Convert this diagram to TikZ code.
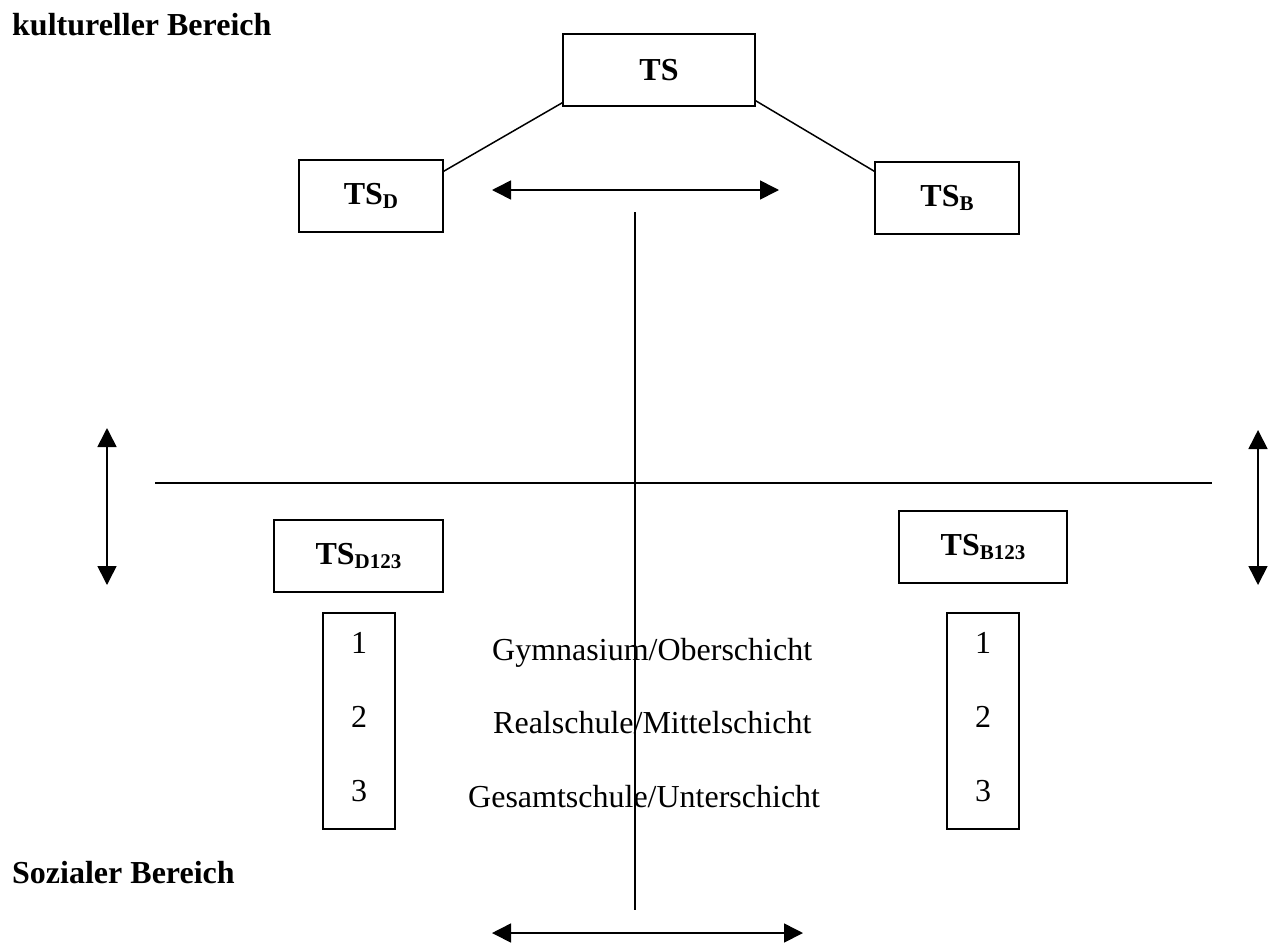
\documentclass[tikz,border=0pt]{standalone}
\usepackage{fontspec}
\setmainfont{Liberation Serif}
\usetikzlibrary{arrows.meta}

\newcommand{\subtxt}[1]{\raisebox{-4pt}{\fontsize{21}{21}\selectfont #1}}

\begin{document}
\begin{tikzpicture}[x=1pt,y=-1pt,
  txt/.style={font=\fontsize{32}{38}\selectfont, inner sep=0pt},
  boldtxt/.style={font=\fontsize{32}{38}\selectfont\bfseries, inner sep=0pt},
  tsbox/.style={draw, line width=1.6pt, font=\fontsize{32}{38}\selectfont\bfseries,
    minimum width=144pt, minimum height=72pt, inner sep=0pt},
  numbox/.style={draw, line width=1.6pt, minimum width=72pt, minimum height=216pt, inner sep=0pt},
  link/.style={line width=1.5pt},
  axis/.style={line width=1.6pt},
  both/.style={line width=1.6pt, {Triangle[length=19pt,width=19pt]}-{Triangle[length=19pt,width=19pt]}}
]
\useasboundingbox (0,0) rectangle (1281,945);

% area labels
\node[boldtxt, anchor=base west] (kult) at (12,35) {kultureller Bereich};
\node[boldtxt, anchor=base west] (soz) at (12,883) {Sozialer Bereich};

% upper tree: TS with its two branches
\node[tsbox, minimum width=192pt] (ts) at (659,70) {TS};
\node[tsbox] (tsd) at (371,196) {TS\subtxt{D}};
\node[tsbox] (tsb) at (947,198) {TS\subtxt{B}};
\draw[link] ([yshift=4pt]ts.south west) -- ([yshift=-12pt]tsd.north east);
\draw[link] ([yshift=6pt]ts.south east) -- ([yshift=-10pt]tsb.north west);

% axes
\coordinate (vtop) at (635,212);
\coordinate (vbot) at (635,910);
\coordinate (hl) at (155,483);
\coordinate (hr) at (1212,483);
\draw[axis] (vtop) -- (vbot);
\draw[axis] (hl) -- (hr);

% double arrows
\coordinate (ta1) at (492,190);
\coordinate (ta2) at (779,190);
\draw[both] (ta1) -- (ta2);
\coordinate (ba1) at (492,933);
\coordinate (ba2) at (803,933);
\draw[both] (ba1) -- (ba2);
\coordinate (la1) at (107,428);
\coordinate (la2) at (107,585);
\draw[both] (la1) -- (la2);
\coordinate (ra1) at (1258,430);
\coordinate (ra2) at (1258,585);
\draw[both] (ra1) -- (ra2);

% lower boxes
\node[tsbox, minimum width=169pt] (tsd123) at (358.5,556) {TS\subtxt{D123}};
\node[tsbox, minimum width=168pt] (tsb123) at (983,547) {TS\subtxt{B123}};

\node[numbox] (lnum) at (359,721) {};
\node[numbox] (rnum) at (983,721) {};
\node[txt, anchor=base] (l1) at (359,653) {1};
\node[txt, anchor=base] (l2) at (359,727) {2};
\node[txt, anchor=base] (l3) at (359,801) {3};
\node[txt, anchor=base] (r1) at (983,653) {1};
\node[txt, anchor=base] (r2) at (983,727) {2};
\node[txt, anchor=base] (r3) at (983,801) {3};

% school types / social classes
\node[txt, anchor=base west] (gym) at (492,660) {Gymnasium/Oberschicht};
\node[txt, anchor=base west] (real) at (493,733) {Realschule/Mittelschicht};
\node[txt, anchor=base west] (ges) at (468,807) {Gesamtschule/Unterschicht};
\end{tikzpicture}
\end{document}
